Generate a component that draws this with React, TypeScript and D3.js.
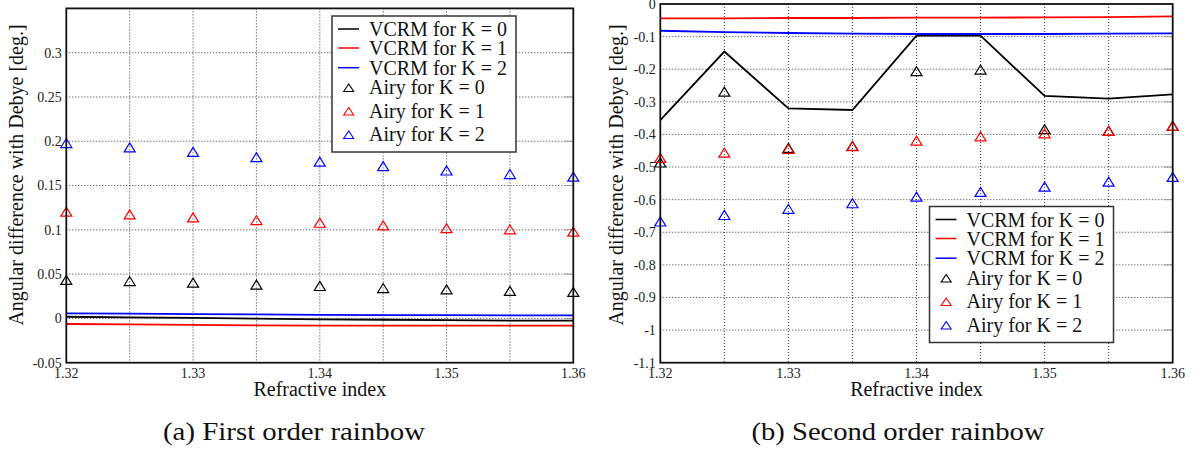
import React from "react";
import * as d3 from "d3";

const refIndex = [1.32, 1.325, 1.33, 1.335, 1.34, 1.345, 1.35, 1.355, 1.36];

// First order rainbow (a)
const vcrmK0_a = [0.0019, 0.0012, 0.0005, -0.0003, -0.0010, -0.0015, -0.0020, -0.0024, -0.0026];
const vcrmK1_a = [-0.0063, -0.0068, -0.0073, -0.0078, -0.0081, -0.0082, -0.0082, -0.0082, -0.0082];
const vcrmK2_a = [0.0058, 0.0054, 0.0049, 0.0045, 0.0040, 0.0038, 0.0036, 0.0035, 0.0035];
const airyK0_a = [0.0434, 0.0422, 0.0403, 0.0381, 0.0366, 0.0343, 0.0328, 0.0310, 0.0300];
const airyK1_a = [0.1205, 0.1175, 0.1140, 0.1110, 0.1080, 0.1050, 0.1020, 0.1006, 0.0980];
const airyK2_a = [0.198, 0.193, 0.188, 0.182, 0.177, 0.172, 0.167, 0.163, 0.160];

// Second order rainbow (b)
const vcrmK0_b = [-0.356, -0.146, -0.320, -0.325, -0.097, -0.097, -0.282, -0.290, -0.277];
const vcrmK1_b = [-0.044, -0.044, -0.043, -0.043, -0.042, -0.042, -0.041, -0.040, -0.038];
const vcrmK2_b = [-0.082, -0.086, -0.089, -0.091, -0.092, -0.092, -0.092, -0.091, -0.090];
const airyK0_b = [-0.486, -0.269, -0.441, -0.435, -0.206, -0.201, -0.384, -0.389, -0.374];
const airyK1_b = [-0.472, -0.456, -0.444, -0.436, -0.419, -0.406, -0.397, -0.389, -0.374];
const airyK2_b = [-0.667, -0.647, -0.628, -0.611, -0.591, -0.576, -0.560, -0.545, -0.530];

const xGridTicks = [1.32, 1.325, 1.33, 1.335, 1.34, 1.345, 1.35, 1.355, 1.36];
const xLabelTicks = [1.32, 1.33, 1.34, 1.35, 1.36];
const yTicks_a = [-0.05, 0, 0.05, 0.1, 0.15, 0.2, 0.25, 0.3];
const yTicks_b = [0, -0.1, -0.2, -0.3, -0.4, -0.5, -0.6, -0.7, -0.8, -0.9, -1, -1.1];

const legendLabels = ["VCRM for K = 0", "VCRM for K = 1", "VCRM for K = 2", "Airy for K = 0", "Airy for K = 1", "Airy for K = 2"];
const seriesColors = ["#000000", "#ff0000", "#0000ff"];

const FONT = "Liberation Serif";

function tri(cx: number, cy: number, w = 11, h = 9) {
  return `M${cx - w / 2},${cy + h / 2}L${cx + w / 2},${cy + h / 2}L${cx},${cy - h / 2}Z`;
}

function fmt(v: number) {
  const r = Math.round(v * 1000) / 1000;
  return String(r);
}

type PanelProps = {
  x0: number; x1: number; yTop: number; yBot: number;
  yDomain: [number, number];
  yTicks: number[];
  vcrm: number[][];
  airy: number[][];
  legendX: number; legendY: number;
  yLabelX: number;
};

const tStyle = (size: number) => ({ fontFamily: FONT, fontSize: size + "px" });

function Panel(p: PanelProps) {
  const x = d3.scaleLinear().domain([1.32, 1.36]).range([p.x0, p.x1]);
  const y = d3.scaleLinear().domain(p.yDomain).range([p.yBot, p.yTop]);
  const line = d3.line<number>().x((_, i) => x(refIndex[i])).y((d) => y(d));
  const midX = (p.x0 + p.x1) / 2;
  const lw = 184, lh = 136;
  const lineRows = [20, 39, 58.7];
  const airyRows = [78.3, 101.7, 125.3];
  return (
    <g>
      {xGridTicks.slice(1, -1).map((t) => (
        <line key={"gx" + t} x1={x(t)} x2={x(t)} y1={p.yTop} y2={p.yBot} stroke="#333" strokeWidth={1} strokeDasharray="1,2" />
      ))}
      {p.yTicks.filter((t) => Math.abs(y(t) - p.yTop) > 1 && Math.abs(y(t) - p.yBot) > 1).map((t) => (
        <g key={"gy" + t}>
          <line x1={p.x0} x2={p.x1} y1={y(t)} y2={y(t)} stroke="#333" strokeWidth={1} strokeDasharray="1,2" />
          <line x1={p.x1 - 9} x2={p.x1} y1={y(t)} y2={y(t)} stroke="#999" strokeWidth={1} />
        </g>
      ))}
      {p.vcrm.map((s, k) => (
        <path key={"v" + k} d={line(s) || ""} fill="none" stroke={seriesColors[k]} strokeWidth={1.8} />
      ))}
      {p.airy.map((s, k) => (
        <g key={"a" + k}>
          {s.map((v, i) => (
            <path key={i} d={tri(x(refIndex[i]), y(v))} fill="none" stroke={seriesColors[k]} strokeWidth={1.2} />
          ))}
        </g>
      ))}
      <rect x={p.x0} y={p.yTop} width={p.x1 - p.x0} height={p.yBot - p.yTop} fill="none" stroke="#111" strokeWidth={1.8} />
      {p.yTicks.map((t) => (
        <text key={"yl" + t} x={p.x0 - 4.5} y={y(t)} dy="0.35em" textAnchor="end" style={tStyle(14)} fill="#222">{fmt(t)}</text>
      ))}
      {xLabelTicks.map((t) => (
        <text key={"xl" + t} x={x(t)} y={p.yBot + 15} textAnchor="middle" style={tStyle(14)} fill="#222">{fmt(t)}</text>
      ))}
      <text x={midX} y={396} textAnchor="middle" style={tStyle(20)} fill="#111">Refractive index</text>
      <text transform={`translate(${p.yLabelX},175) rotate(-90)`} textAnchor="middle" style={tStyle(20)} fill="#111">Angular difference with Debye [deg.]</text>
      <g transform={`translate(${p.legendX},${p.legendY})`}>
        <rect x={0} y={0} width={lw} height={lh} fill="#fff" stroke="#333" strokeWidth={1.5} />
        {lineRows.map((r, k) => (
          <g key={"ll" + k}>
            <line x1={6} x2={27} y1={r - 7} y2={r - 7} stroke={seriesColors[k]} strokeWidth={1.5} />
            <text x={37} y={r} style={tStyle(20)} fill="#111">{legendLabels[k]}</text>
          </g>
        ))}
        {airyRows.map((r, k) => (
          <g key={"la" + k}>
            <path d={tri(16.7, r - 6.5, 10, 7.5)} fill="none" stroke={seriesColors[k]} strokeWidth={1.1} />
            <text x={37} y={r} style={tStyle(20)} fill="#111">{legendLabels[3 + k]}</text>
          </g>
        ))}
      </g>
    </g>
  );
}

export default function App() {
  return (
    <svg width={1204} height={450} fontFamily={FONT} style={{ position: "absolute", left: 0, top: 0, background: "#fff" }}>
      <rect x={0} y={0} width={1204} height={450} fill="#fff" />
      <Panel x0={66.3} x1={573.3} yTop={8.4} yBot={362.7} yDomain={[-0.05, 0.35]} yTicks={yTicks_a}
        vcrm={[vcrmK0_a, vcrmK1_a, vcrmK2_a]} airy={[airyK0_a, airyK1_a, airyK2_a]}
        legendX={332} legendY={16} yLabelX={23} />
      <Panel x0={660.3} x1={1172.7} yTop={4} yBot={362.7} yDomain={[-1.1, 0]} yTicks={yTicks_b}
        vcrm={[vcrmK0_b, vcrmK1_b, vcrmK2_b]} airy={[airyK0_b, airyK1_b, airyK2_b]}
        legendX={929.5} legendY={206.5} yLabelX={623} />
      <text x={294} y={440} textAnchor="middle" style={tStyle(26)} fill="#111" textLength={262} lengthAdjust="spacingAndGlyphs">(a) First order rainbow</text>
      <text x={898} y={440} textAnchor="middle" style={tStyle(26)} fill="#111" textLength={293} lengthAdjust="spacingAndGlyphs">(b) Second order rainbow</text>
    </svg>
  );
}
